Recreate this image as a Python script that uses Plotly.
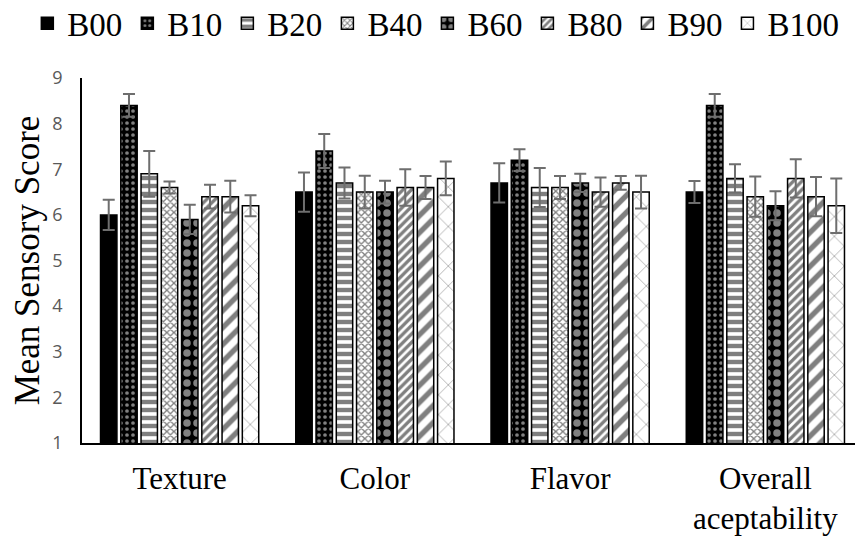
import plotly.graph_objects as go

categories = ["Texture", "Color", "Flavor", "Overall<br>aceptability"]
series_names = ["B00", "B10", "B20", "B40", "B60", "B80", "B90", "B100"]

B00 = [6.0, 6.5, 6.7, 6.5]
B10 = [8.4, 7.4, 7.2, 8.4]
B20 = [6.9, 6.7, 6.6, 6.8]
B40 = [6.6, 6.5, 6.6, 6.4]
B60 = [5.9, 6.5, 6.7, 6.2]
B80 = [6.4, 6.6, 6.5, 6.8]
B90 = [6.4, 6.6, 6.7, 6.4]
B100 = [6.2, 6.8, 6.5, 6.2]

E00 = [0.33, 0.43, 0.43, 0.24]
E10 = [0.25, 0.37, 0.24, 0.25]
E20 = [0.50, 0.34, 0.43, 0.31]
E40 = [0.13, 0.36, 0.25, 0.44]
E60 = [0.32, 0.25, 0.20, 0.32]
E80 = [0.26, 0.40, 0.32, 0.42]
E90 = [0.35, 0.25, 0.15, 0.43]
E100 = [0.23, 0.37, 0.36, 0.60]

values = [B00, B10, B20, B40, B60, B80, B90, B100]
errors = [E00, E10, E20, E40, E60, E80, E90, E100]

patterns = [
    dict(shape=""),
    dict(shape=".", bgcolor="black", fgcolor="white", size=6, solidity=0.3),
    dict(shape="-", bgcolor="white", fgcolor="black", size=8, solidity=0.55),
    dict(shape="x", bgcolor="white", fgcolor="black", size=5, solidity=0.45),
    dict(shape=".", bgcolor="black", fgcolor="white", size=10, solidity=0.45),
    dict(shape="/", bgcolor="white", fgcolor="black", size=6, solidity=0.55),
    dict(shape="/", bgcolor="white", fgcolor="black", size=12, solidity=0.45),
    dict(shape="x", bgcolor="white", fgcolor="black", size=14, solidity=0.08),
]

fig = go.Figure()
for name, v, e, p in zip(series_names, values, errors, patterns):
    fig.add_trace(go.Bar(
        name=name, x=categories, y=v,
        marker=dict(color="black" if name == "B00" else "white",
                    line=dict(color="black", width=1.5), pattern=p),
        error_y=dict(type="data", array=e, color="#6e6e6e", thickness=2, width=6),
    ))

fig.update_layout(
    width=863, height=536,
    paper_bgcolor="white", plot_bgcolor="white",
    barmode="group", bargap=0.17, bargroupgap=0.19,
    margin=dict(l=74, r=8, t=70, b=101, autoexpand=False),
    showlegend=True,
    legend=dict(orientation="h", x=-0.07, xanchor="left",
                y=1.15, yanchor="middle", yref="paper",
                font=dict(family="Liberation Serif", size=33, color="black"),
                itemwidth=30),
    yaxis=dict(range=[1, 9], dtick=1, showgrid=False, zeroline=False,
               showline=True, linecolor="black", linewidth=1.5, ticks="",
               automargin=False, ticklabelstandoff=14,
               tickfont=dict(family="Open Sans", size=18, color="#595959"),
               title=dict(text="Mean Sensory Score",
                          font=dict(family="Liberation Serif", size=35, color="black"),
                          standoff=21)),
    xaxis=dict(showgrid=False, showline=True, linecolor="black", linewidth=1.5,
               automargin=False, ticks="", ticklabelstandoff=7,
               tickfont=dict(family="Liberation Serif", size=31, color="black")),
)
fig.write_html("out.html")
